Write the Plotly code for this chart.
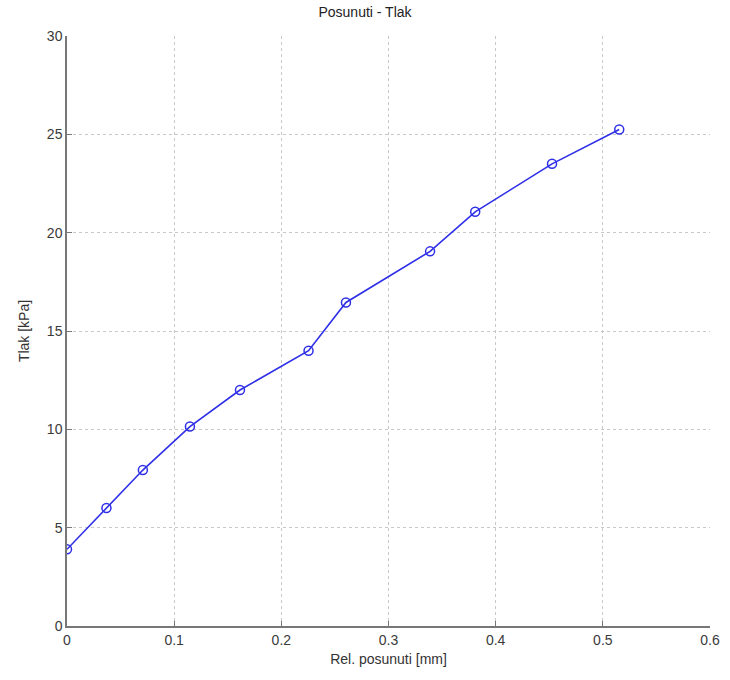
import plotly.graph_objects as go

posunuti = [0.0, 0.0368, 0.0708, 0.1147, 0.1614, 0.2254, 0.2603, 0.3388, 0.3809, 0.4526, 0.5153]
tlak = [3.9, 6.0, 7.93, 10.14, 12.0, 14.0, 16.45, 19.05, 21.06, 23.5, 25.25]

x_ticks = [0, 0.1, 0.2, 0.3, 0.4, 0.5, 0.6]
x_labels = ["0", "0.1", "0.2", "0.3", "0.4", "0.5", "0.6"]
y_ticks = [0, 5, 10, 15, 20, 25, 30]

fig = go.Figure()
fig.add_trace(go.Scatter(
    x=posunuti, y=tlak, mode="lines+markers",
    line=dict(color="#2f2fe8", width=1.6),
    marker=dict(symbol="circle-open", size=9, color="#2f2fe8", line=dict(width=1.5)),
    showlegend=False,
))

tick_font = dict(family="Liberation Sans, Arial", size=14, color="#3a3a3a")
title_font = dict(family="Liberation Sans, Arial", size=14, color="#333333")
fig.update_layout(
    width=730, height=680,
    margin=dict(l=67, r=10, t=36, b=54),
    paper_bgcolor="white", plot_bgcolor="white",
    title=dict(text="Posunuti - Tlak", x=0.5, xanchor="center", y=0.99, yanchor="top",
               font=dict(family="Liberation Sans, Arial", size=14, color="#222222")),
    xaxis=dict(range=[0, 0.6], tickvals=x_ticks, ticktext=x_labels,
               showgrid=True, gridcolor="#c8c8c8", griddash="dot", gridwidth=1,
               showline=True, linecolor="#777777", linewidth=1.5, mirror=False,
               ticks="inside", ticklen=5, tickcolor="#777777",
               zeroline=False, tickfont=tick_font,
               title=dict(text="Rel. posunuti [mm]", font=title_font, standoff=8)),
    yaxis=dict(range=[0, 30], tickvals=y_ticks,
               showgrid=True, gridcolor="#c8c8c8", griddash="dot", gridwidth=1,
               showline=True, linecolor="#777777", linewidth=1.5, mirror=False,
               ticks="inside", ticklen=5, tickcolor="#777777",
               zeroline=False, tickfont=tick_font,
               title=dict(text="Tlak [kPa]", font=title_font, standoff=14)),
)

fig.write_html("out.html")
